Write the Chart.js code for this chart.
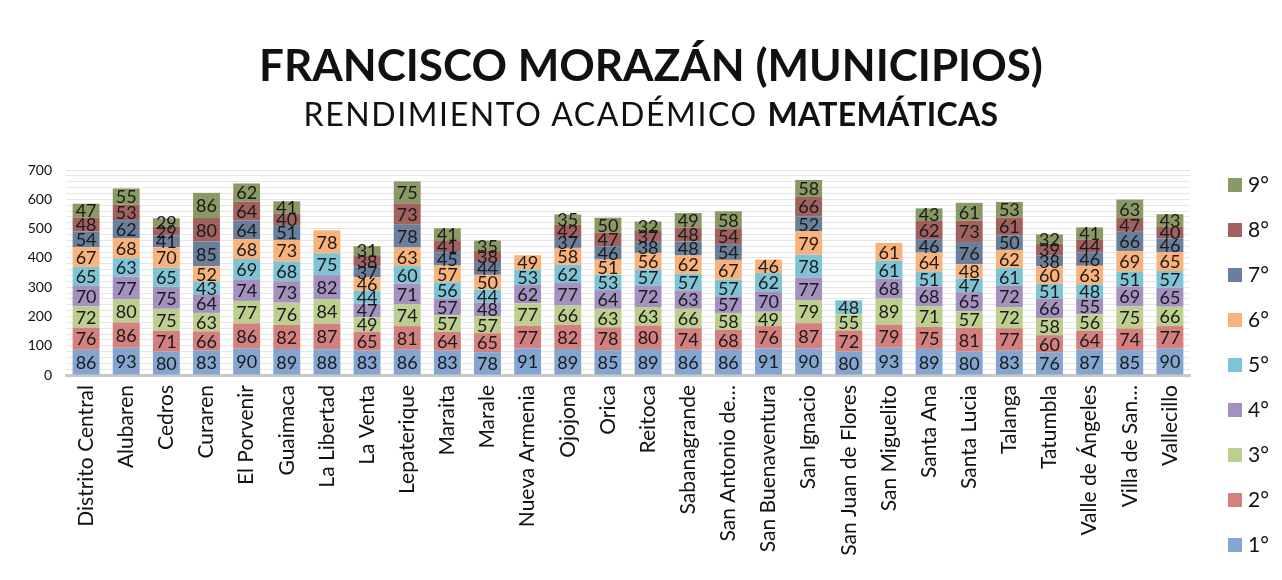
<!DOCTYPE html>
<html>
<head>
<meta charset="utf-8">
<script src="https://cdn.jsdelivr.net/npm/chart.js@4.4.1/dist/chart.umd.min.js"></script>
<style>
  body { margin: 0; background: #fff; }
  #wrap { position: relative; width: 1282px; height: 580px; }
  #title { position: absolute; left: 0; width: 1302px; top: 38px; text-align: center;
    font-family: Lato, sans-serif; font-weight: bold; font-size: 44px; color: #111; }
  #subtitle { position: absolute; left: 0; width: 1302px; top: 94px; text-align: center;
    font-family: Lato, sans-serif; font-size: 32px; color: #111; letter-spacing: 1.6px; }
  #subtitle b { letter-spacing: 0.3px; }
  canvas { position: absolute; left: 0; top: 0; }
</style>
</head>
<body>
<div id="wrap">
  <canvas id="chart" width="1282" height="580"></canvas>
  <div id="title">FRANCISCO MORAZÁN (MUNICIPIOS)</div>
  <div id="subtitle">RENDIMIENTO ACADÉMICO <b>MATEMÁTICAS</b></div>
</div>
<script>
const municipios = ["Distrito Central", "Alubaren", "Cedros", "Curaren", "El Porvenir", "Guaimaca",
  "La Libertad", "La Venta", "Lepaterique", "Maraita", "Marale", "Nueva Armenia", "Ojojona", "Orica",
  "Reitoca", "Sabanagrande", "San Antonio de…", "San Buenaventura", "San Ignacio", "San Juan de Flores",
  "San Miguelito", "Santa Ana", "Santa Lucia", "Talanga", "Tatumbla", "Valle de Ángeles", "Villa de San…",
  "Vallecillo"];

const grado1 = [86, 93, 80, 83, 90, 89, 88, 83, 86, 83, 78, 91, 89, 85, 89, 86, 86, 91, 90, 80, 93, 89, 80, 83, 76, 87, 85, 90];
const grado2 = [76, 86, 71, 66, 86, 82, 87, 65, 81, 64, 65, 77, 82, 78, 80, 74, 68, 76, 87, 72, 79, 75, 81, 77, 60, 64, 74, 77];
const grado3 = [72, 80, 75, 63, 77, 76, 84, 49, 74, 57, 57, 77, 66, 63, 63, 66, 58, 49, 79, 55, 89, 71, 57, 72, 58, 56, 75, 66];
const grado4 = [70, 77, 75, 64, 74, 73, 82, 47, 71, 57, 48, 62, 77, 64, 72, 63, 57, 70, 77, null, 68, 68, 65, 72, 66, 55, 69, 65];
const grado5 = [65, 63, 65, 43, 69, 68, 75, 44, 60, 56, 44, 53, 62, 53, 57, 57, 57, 62, 78, 48, 61, 51, 47, 61, 51, 48, 51, 57];
const grado6 = [67, 68, 70, 52, 68, 73, 78, 46, 63, 57, 50, 49, 58, 51, 56, 62, 67, 46, 79, null, 61, 64, 48, 62, 60, 63, 69, 65];
const grado7 = [54, 62, 41, 85, 64, 51, null, 37, 78, 45, 44, null, 37, 46, 38, 48, 54, null, 52, null, null, 46, 76, 50, 38, 46, 66, 46];
const grado8 = [48, 53, 29, 80, 64, 40, null, 38, 73, 41, 38, null, 42, 47, 37, 48, 54, null, 66, null, null, 62, 73, 61, 39, 44, 47, 40];
const grado9 = [47, 55, 29, 86, 62, 41, null, 31, 75, 41, 35, null, 35, 50, 32, 49, 58, null, 58, null, null, 43, 61, 53, 32, 41, 63, 43];

const grados = ["1°", "2°", "3°", "4°", "5°", "6°", "7°", "8°", "9°"];
const valores = [grado1, grado2, grado3, grado4, grado5, grado6, grado7, grado8, grado9];
const colores = ["#84a5d0", "#d4807f", "#bccf8e", "#a591c0", "#7fc4d5", "#f9b27a", "#6a7f9c", "#a0615f", "#8a9a64"];

const FONT = "Lato, 'Open Sans', sans-serif";

// numbers inside each segment
const segmentLabels = {
  id: 'segmentLabels',
  afterDatasetsDraw(chart) {
    const ctx = chart.ctx;
    ctx.save();
    ctx.font = "18px " + FONT;
    ctx.fillStyle = "#1a1a1a";
    ctx.textAlign = "center";
    ctx.textBaseline = "middle";
    chart.data.datasets.forEach((ds, i) => {
      const meta = chart.getDatasetMeta(i);
      if (meta.hidden) return;
      meta.data.forEach((bar, j) => {
        const v = ds.data[j];
        if (v == null) return;
        const p = bar.getProps(['x', 'y', 'base'], true);
        ctx.fillText(v, p.x, (p.y + p.base) / 2 + 1);
      });
    });
    ctx.restore();
  }
};

// legend column on the right, 9° on top
const sideLegend = {
  id: 'sideLegend',
  afterDraw(chart) {
    const ctx = chart.ctx;
    const area = chart.chartArea;
    ctx.save();
    ctx.font = "21px " + FONT;
    ctx.textBaseline = "middle";
    const n = chart.data.datasets.length;
    for (let k = 0; k < n; k++) {
      const ds = chart.data.datasets[n - 1 - k];
      const y = area.top + 15 + k * 45;
      ctx.fillStyle = ds.backgroundColor;
      ctx.fillRect(area.right + 38, y - 7, 14, 14);
      ctx.fillStyle = "#111";
      ctx.fillText(ds.label, area.right + 58, y);
    }
    ctx.restore();
  }
};

new Chart(document.getElementById('chart'), {
  type: 'bar',
  data: {
    labels: municipios,
    datasets: grados.map((g, i) => ({
      label: g,
      data: valores[i],
      backgroundColor: colores[i],
      borderWidth: 0,
      categoryPercentage: 1,
      barPercentage: 0.67
    }))
  },
  options: {
    responsive: false,
    animation: false,
    layout: { padding: { top: 170, left: 0, right: 92, bottom: 0 } },
    plugins: {
      legend: { display: false },
      tooltip: { enabled: false }
    },
    scales: {
      x: {
        stacked: true,
        grid: { display: false },
        border: { color: "#c8c8c8", width: 3 },
        afterFit(scale) { scale.height = 205; },
        ticks: {
          font: { family: FONT, size: 21 },
          color: "#111",
          padding: 2,
          minRotation: 90,
          maxRotation: 90,
          autoSkip: false
        }
      },
      y: {
        stacked: true,
        min: 0,
        max: 700,
        border: { display: false },
        afterFit(scale) { scale.width = 66; },
        grid: { color: "#e6e6e6", drawTicks: false },
        ticks: {
          stepSize: 20,
          font: { family: FONT, size: 14 },
          color: "#111",
          padding: 14,
          autoSkip: false,
          callback: v => (v % 100 === 0 ? v : "")
        }
      }
    }
  },
  plugins: [segmentLabels, sideLegend]
});
</script>
</body>
</html>
